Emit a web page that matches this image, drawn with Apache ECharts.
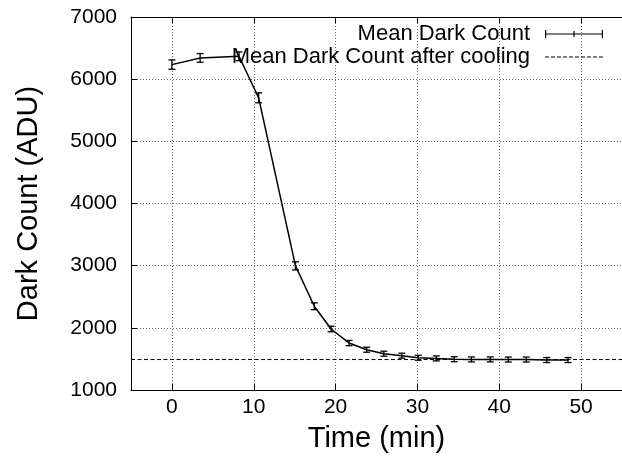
<!DOCTYPE html>
<html>
<head>
<meta charset="utf-8">
<script src="https://cdn.jsdelivr.net/npm/echarts@6/dist/echarts.min.js"></script>
<style>
  html, body { margin: 0; padding: 0; background: #fff; }
  #chart { width: 622px; height: 462px; }
</style>
</head>
<body>
<div id="chart"></div>
<script>
// Dark count measured while the camera cools down
const timeMin = [0, 3.45, 8.2, 10.6, 15.1, 17.4, 19.45, 21.65, 23.8, 25.9,
                 28.1, 30.1, 32.3, 34.5, 36.6, 38.9, 41.1, 43.3, 45.8, 48.4];
const darkCount = [6234, 6342, 6368, 5700, 2997, 2347, 1981, 1755, 1648, 1584,
                   1552, 1519, 1508, 1495, 1492, 1492, 1490, 1490, 1482, 1482];
const darkCountErr = [75, 70, 70, 80, 65, 55, 45, 42, 40, 40,
                      40, 40, 40, 40, 40, 40, 40, 40, 40, 40];
// Level reached once cooling has settled
const cooledLevel = 1490;

// Axis ranges and tick labels
const xRange = [-5, 55];
const xTicks = [0, 10, 20, 30, 40, 50];
const yRange = [1000, 7000];
const yStep = 1000;

const FONT = '"Liberation Sans", Arial, Helvetica, sans-serif';

const meanLine = timeMin.map((t, i) => [t, darkCount[i]]);
const errRows = timeMin.map((t, i) => [t, darkCount[i] - darkCountErr[i], darkCount[i] + darkCountErr[i]]);
const cooledLine = xRange.map(x => [x, cooledLevel]);

// Legend keys: error-bar sample and dashed sample, built as filled paths
const errIcon = 'path://M0,0h1.2v8h-1.2z M56.8,0h1.2v8h-1.2z M0,3.4h58v1.2h-58z M28.4,1h1.2v6h-1.2z';
let dashParts = [];
for (let x = 0; x < 58; x += 6) dashParts.push('M' + x + ',0h4v1h-4z');
const dashIcon = 'path://' + dashParts.join(' ');

const chart = echarts.init(document.getElementById('chart'), null, { renderer: 'canvas' });

const gridLine = { show: true, lineStyle: { color: '#666', width: 1, type: [1, 2] } };
const border = { show: true, onZero: false, lineStyle: { color: '#000', width: 1 } };
const plain = v => String(v);

chart.setOption({
  animation: false,
  backgroundColor: '#fff',
  grid: { left: 131, top: 17, bottom: 72, right: -9 },
  legend: {
    orient: 'vertical',
    right: 19,
    top: 23,
    align: 'right',
    padding: 0,
    itemWidth: 58,
    itemHeight: 8,
    itemGap: 1,
    selectedMode: false,
    textStyle: { fontFamily: FONT, fontSize: 22, color: '#000', padding: [0, 10, 0, 0] },
    data: [
      { name: 'Mean Dark Count', icon: errIcon },
      { name: 'Mean Dark Count after cooling', icon: dashIcon }
    ]
  },
  xAxis: [
    {
      type: 'value', min: xRange[0], max: xRange[1], position: 'bottom',
      axisLine: border,
      axisTick: { show: true, inside: true, length: 6, customValues: xTicks, lineStyle: { color: '#000' } },
      axisLabel: { customValues: xTicks, formatter: plain, fontFamily: FONT, fontSize: 21, color: '#000', margin: 7 },
      splitLine: gridLine,
      name: 'Time (min)', nameLocation: 'middle', nameGap: 34,
      nameTextStyle: { fontFamily: FONT, fontSize: 29, color: '#000' }
    },
    {
      type: 'value', min: xRange[0], max: xRange[1], position: 'top',
      axisLine: border,
      axisTick: { show: true, inside: true, length: 6, customValues: xTicks, lineStyle: { color: '#000' } },
      axisLabel: { show: false },
      splitLine: { show: false }
    }
  ],
  yAxis: {
    type: 'value', min: yRange[0], max: yRange[1], interval: yStep,
    axisLine: border,
    axisTick: { show: true, inside: true, length: 6, lineStyle: { color: '#000' } },
    axisLabel: { formatter: plain, fontFamily: FONT, fontSize: 21, color: '#000', margin: 14 },
    splitLine: gridLine,
    name: 'Dark Count (ADU)', nameLocation: 'middle', nameGap: 88,
    nameTextStyle: { fontFamily: FONT, fontSize: 29, color: '#000' }
  },
  series: [
    {
      name: 'Mean Dark Count',
      type: 'line',
      data: meanLine,
      symbol: 'none',
      itemStyle: { color: '#000' },
      lineStyle: { color: '#000', width: 1.5 },
      z: 3
    },
    {
      name: 'Mean Dark Count',
      type: 'custom',
      data: errRows,
      encode: { x: 0, y: [1, 2] },
      itemStyle: { color: '#000' },
      z: 4,
      renderItem: function (params, api) {
        const x = api.value(0);
        const lo = api.coord([x, api.value(1)]);
        const hi = api.coord([x, api.value(2)]);
        const w = 3.5;
        const st = { stroke: '#000', lineWidth: 1.3 };
        return {
          type: 'group',
          children: [
            { type: 'line', shape: { x1: lo[0], y1: lo[1], x2: hi[0], y2: hi[1] }, style: st },
            { type: 'line', shape: { x1: lo[0] - w, y1: lo[1], x2: lo[0] + w, y2: lo[1] }, style: st },
            { type: 'line', shape: { x1: hi[0] - w, y1: hi[1], x2: hi[0] + w, y2: hi[1] }, style: st }
          ]
        };
      }
    },
    {
      name: 'Mean Dark Count after cooling',
      type: 'line',
      data: cooledLine,
      symbol: 'none',
      itemStyle: { color: '#000' },
      lineStyle: { color: '#000', width: 1, type: [4, 2.5] },
      z: 2
    }
  ]
});
</script>
</body>
</html>
